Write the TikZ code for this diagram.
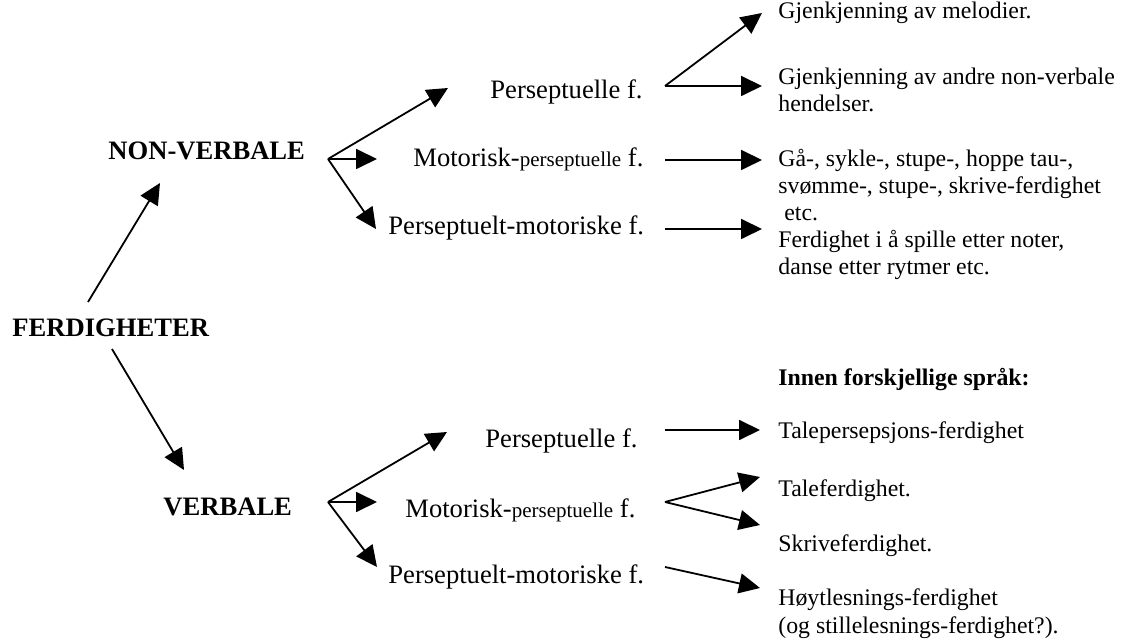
\documentclass[tikz,border=0pt]{standalone}
\usepackage{fontspec}
\setmainfont{Liberation Serif}
\usetikzlibrary{arrows.meta}

\begin{document}
\begin{tikzpicture}[
x=0.5pt,y=-0.5pt,
big/.style={
  anchor=base west,
  inner sep=0pt,
  font=\fontsize{13.3}{16}\selectfont
},
bigb/.style={
  big,
  font=\fontsize{13.3}{16}\selectfont\bfseries
},
small/.style={
  anchor=base west,
  inner sep=0pt,
  align=left,
  font=\fontsize{11.9}{13.7}\selectfont
},
arr/.style={
  -{Triangle[length=10.5pt,width=10pt]},
  line width=0.9pt
}
]
\useasboundingbox (0,0) rectangle (1123,640);

% main levels
\node[bigb] (ferd) at (12,337) {FERDIGHETER};
\node[bigb] (nv) at (108,160) {NON-VERBALE};
\node[bigb] (v) at (163,515) {VERBALE};

% non-verbale
\node[big] (p1) at (490,99) {Perseptuelle f.};
\node[big] (mp1) at (413,167) {Motorisk-{\fontsize{10.5}{12}\selectfont perseptuelle} f.};
\node[big] (pm1) at (388,235) {Perseptuelt-motoriske f.};

% (multi-line: base = last line)
\node[small] (g1) at (778,19) {Gjenkjenning av melodier.};
\node[small] (g2) at (778,112) {Gjenkjenning av andre non-verbale\\hendelser.};
\node[small] (ga) at (778,221) {Gå-, sykle-, stupe-, hoppe tau-,\\svømme-, stupe-, skrive-ferdighet\\\ etc.};
\node[small] (fs) at (778,275) {Ferdighet i å spille etter noter,\\danse etter rytmer etc.};

% verbale
\node[big] (p2) at (485,448) {Perseptuelle f.};
\node[big] (mp2) at (405,517) {Motorisk-{\fontsize{10.5}{12}\selectfont perseptuelle} f.};
\node[big] (pm2) at (388,583) {Perseptuelt-motoriske f.};

\node[small,font=\fontsize{11.9}{13.7}\selectfont\bfseries] (inn) at (778,386) {Innen forskjellige språk:};
\node[small] (tp) at (778,439) {Talepersepsjons-ferdighet};
\node[small] (tf) at (778,496) {Taleferdighet.};
\node[small] (sf) at (778,551) {Skriveferdighet.};
\node[small] (hl) at (778,633) {Høytlesnings-ferdighet\\(og stillelesnings-ferdighet?).};

% arrow ends
\coordinate (fa) at (88,302);
\coordinate (fb) at (112,349);
\coordinate (nvin) at (160,183);
\coordinate (vin) at (184,470);
\coordinate (nvf) at (328,159);
\coordinate (vf) at (328,502);
\coordinate (p1in) at (448,88);
\coordinate (mp1in) at (377,159);
\coordinate (pm1in) at (376,229);
\coordinate (p2in) at (447,432);
\coordinate (mp2in) at (377,502);
\coordinate (pm2in) at (377,567);
\coordinate (p1f) at (665,86);
\coordinate (mp1out) at (665,160);
\coordinate (pm1out) at (665,229);
\coordinate (p2out) at (665,430);
\coordinate (mp2f) at (665,502);
\coordinate (pm2out) at (665,567);
\coordinate (g1in) at (762,13);
\coordinate (g2in) at (762,86);
\coordinate (gain) at (762,160);
\coordinate (fsin) at (762,229);
\coordinate (tpin) at (760,430);
\coordinate (tfin) at (760,477);
\coordinate (sfin) at (760,525);
\coordinate (hlin) at (760,588);

\draw[arr] (fa) -- (nvin);
\draw[arr] (fb) -- (vin);

\draw[arr] (nvf) -- (p1in);
\draw[arr] (nvf) -- (mp1in);
\draw[arr] (nvf) -- (pm1in);
\draw[arr] (vf) -- (p2in);
\draw[arr] (vf) -- (mp2in);
\draw[arr] (vf) -- (pm2in);

\draw[arr] (p1f) -- (g1in);
\draw[arr] (p1f) -- (g2in);
\draw[arr] (mp1out) -- (gain);
\draw[arr] (pm1out) -- (fsin);
\draw[arr] (p2out) -- (tpin);
\draw[arr] (mp2f) -- (tfin);
\draw[arr] (mp2f) -- (sfin);
\draw[arr] (pm2out) -- (hlin);

\end{tikzpicture}
\end{document}
